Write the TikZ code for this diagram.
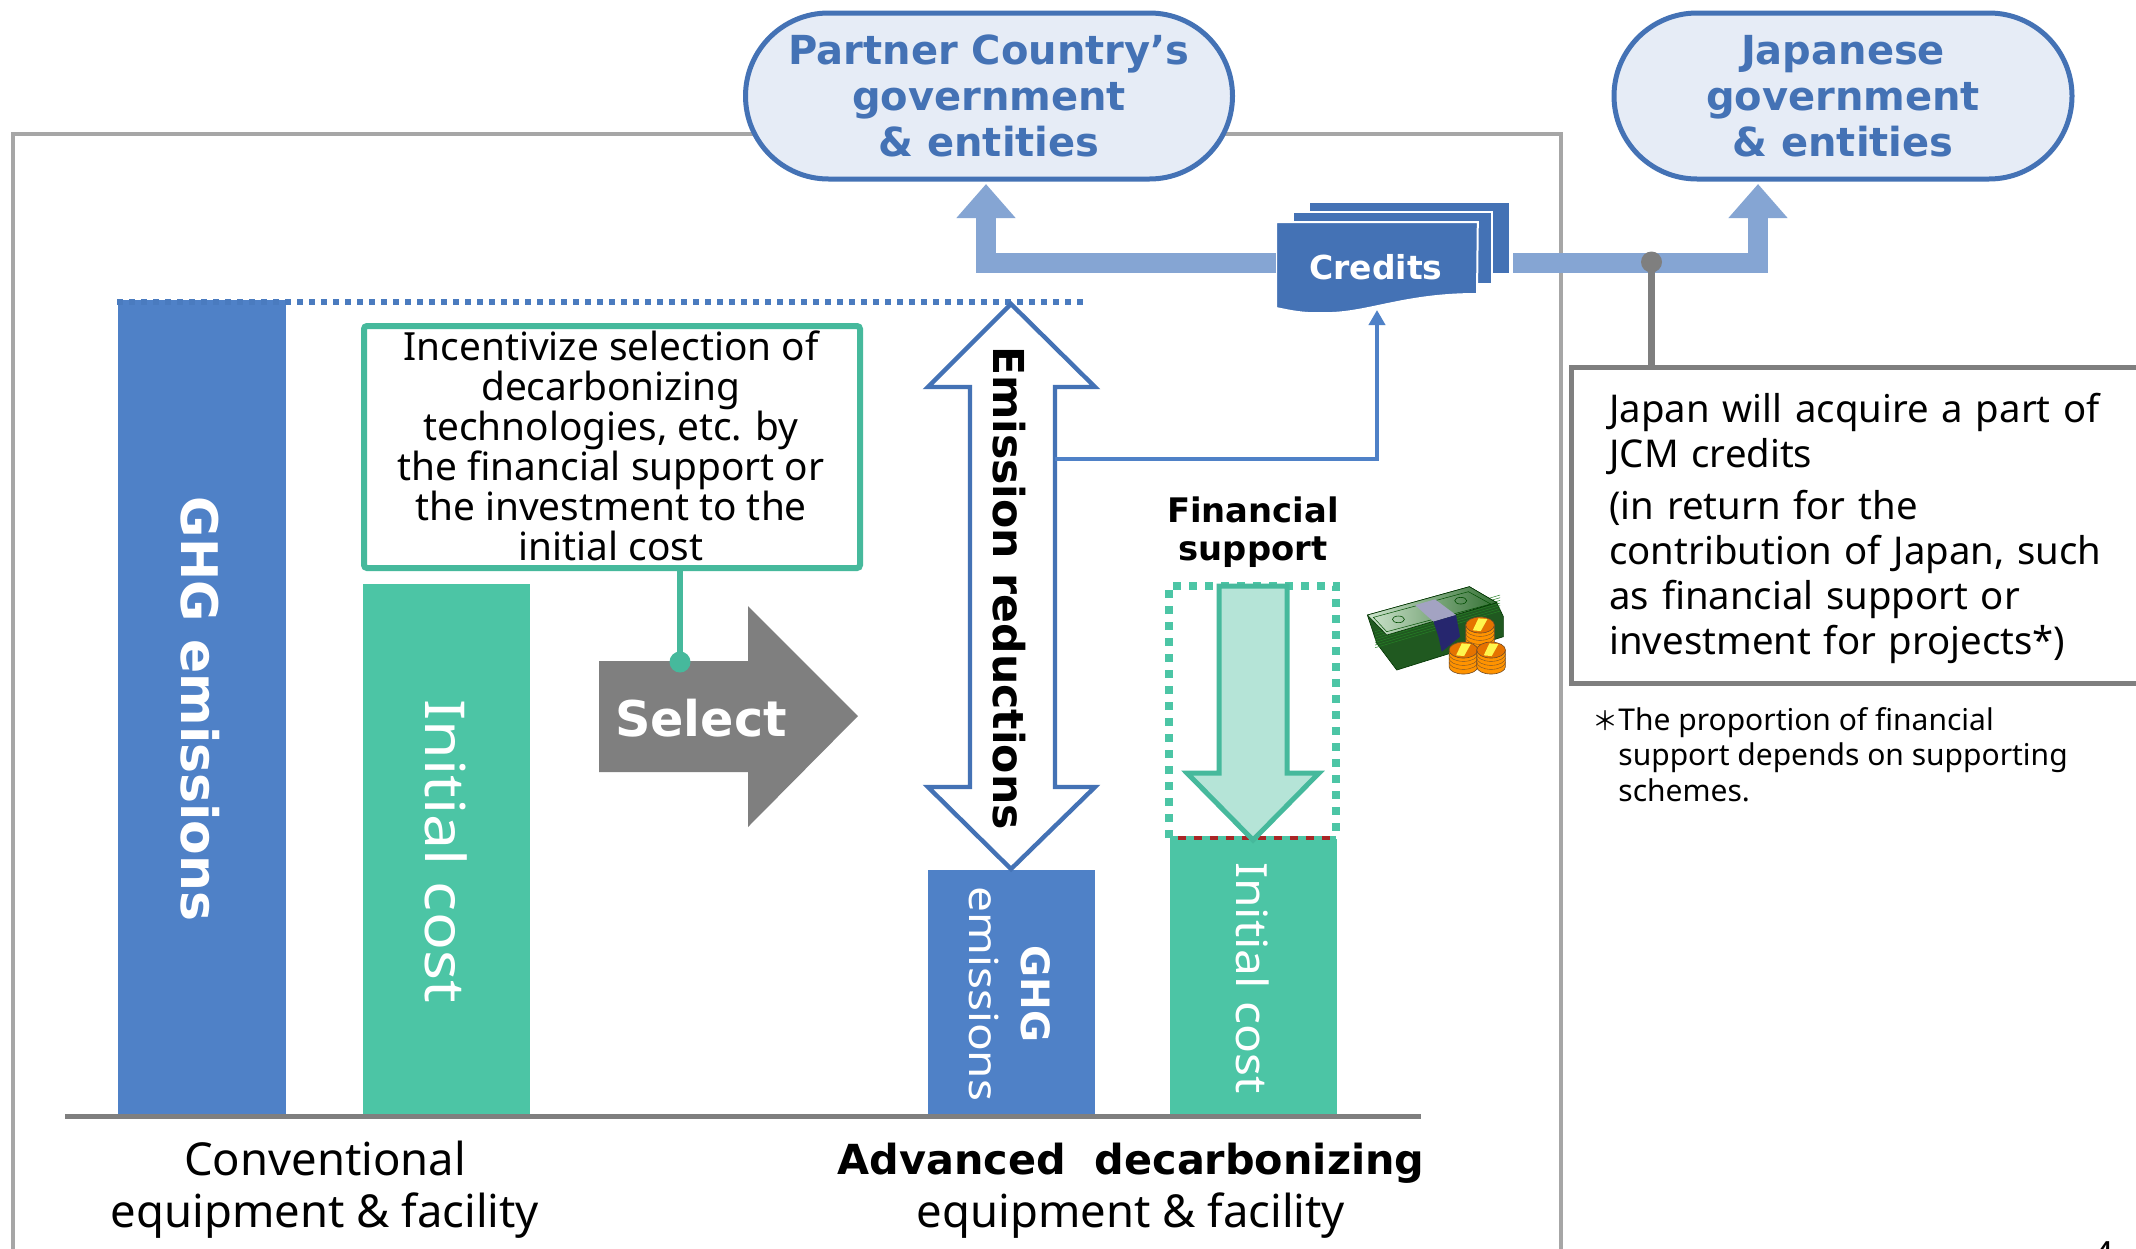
\documentclass[tikz,border=0pt]{standalone}
\usepackage{fontspec}
\setmainfont{Noto Sans}
\newfontfamily\djb{DejaVu Sans}
\newfontfamily\cjkf{Noto Sans CJK JP}
\usetikzlibrary{arrows.meta,shapes.misc,positioning}
\definecolor{bluem}{HTML}{4472B5}
\definecolor{barblue}{HTML}{4F81C7}
\definecolor{dotblue}{HTML}{4A7BBF}
\definecolor{green1}{HTML}{4CC5A5}
\definecolor{green2}{HTML}{46B99C}
\definecolor{greenl}{HTML}{B5E4D7}
\definecolor{paleb}{HTML}{E6ECF6}
\definecolor{band}{HTML}{85A5D3}
\definecolor{grayd}{HTML}{7F7F7F}
\definecolor{grayl}{HTML}{A6A6A6}
\tikzset{
  x=0.5pt,y=-0.5pt,
  pill/.style={rounded rectangle,draw=bluem,line width=2.5pt,fill=paleb,text=bluem,align=center,inner sep=0pt,
    font=\djb\bfseries\fontsize{20}{23}\selectfont},
  bar/.style={anchor=north west,inner sep=0pt,outer sep=0pt,minimum width=#1},
  lbl/.style={text=white,rotate=-90,align=center,inner sep=0pt},
  bandline/.style={draw=band,line width=10pt,line join=miter,-{Triangle[length=17pt,width=28.5pt]}},
  caption/.style={align=center,inner sep=0pt,font=\fontsize{22.7}{26}\selectfont},
  sheet/.style={fill=bluem,draw=white,line width=1pt},
  billdark/.style={fill=green!30!black!75!gray,draw=green!20!black,line width=0.3pt},
  coin/.style={fill=orange!85!yellow,draw=black!40!brown,line width=0.3pt},
}
\begin{document}
\begin{tikzpicture}
\useasboundingbox (0,0) rectangle (2136,1248);
\clip (0,0) rectangle (2136,1248);
\fill[white] (0,0) rectangle (2136,1248);
% frame
\draw[grayl,line width=2pt] (13,1260) -- (13,134) -- (1561,134) -- (1561,1260);
% bars
\node[bar=84pt,minimum height=408.5pt,fill=barblue] (ghg) at (117.5,300) {};
\node[lbl,font=\djb\bfseries\fontsize{25.2}{27}\selectfont] (ghgt) at (200,709) {GHG emissions};
\node[bar=83.5pt,minimum height=266.5pt,fill=green1] (init) at (362.5,584) {};
\node[lbl,font=\fontsize{27.5}{27}\selectfont] (initt) at (446,851) {\scalebox{1.14}[1]{Initial cost}};
\node[bar=83.5pt,minimum height=123.5pt,fill=barblue] (ghg2) at (928,870) {};
\node[lbl,font=\fontsize{20}{26}\selectfont] (ghg2t) at (1010,994) {{\djb\bfseries\fontsize{19.5}{26}\selectfont GHG}\\\scalebox{1.148}[1]{emissions}};
\node[bar=83.5pt,minimum height=139pt,fill=green1] (init2) at (1170,839) {};
\node[lbl,font=\fontsize{21.5}{26}\selectfont] (init2t) at (1253,978) {\scalebox{1.115}[1]{Initial cost}};
% baseline
\coordinate (b1) at (65,1116); \coordinate (b2) at (1421,1116);
\draw[grayd,line width=2.5pt] (b1) -- (b2);
% dotted top
\coordinate (d1) at (117,302); \coordinate (d2) at (1086,302);
\draw[dotblue,line width=3pt,dash pattern=on 3pt off 3pt] (d1) -- (d2);
% incentive box
\node[draw=green2,line width=3pt,rounded corners=1.5pt,fill=white,anchor=north west,minimum width=248pt,minimum height=121pt,inner sep=0pt] (inc) at (361,323) {};
\node[align=center,inner sep=0pt,font=\fontsize{19.4}{20}\selectfont] (inct) at (611,445.5)
  {Incentivize selection of\\decarbonizing\\technologies, etc. by\\the financial support or\\the investment to the\\initial cost};
% select arrow
\fill[grayd] (599,661) -- (748,661) -- (748,606) -- (858,716) -- (748,827) -- (748,772) -- (599,772) -- cycle;
\node[text=white,inner sep=0pt,font=\djb\bfseries\fontsize{24.6}{30}\selectfont] (sel) at (701,718) {Select};
\coordinate (seldot) at (680,662);
\draw[green2,line width=3pt] (inc.south west-|seldot) -- (seldot);
\fill[green2] (seldot) circle (10.5);
% double arrow
\filldraw[draw=bluem,fill=white,line width=2.2pt,line join=miter]
  (1011,304) -- (1095,387) -- (1055,387) -- (1055,787) -- (1095,787) -- (1011,869) -- (928,787) -- (970,787) -- (970,387) -- (928,387) -- cycle;
\node[rotate=-90,inner sep=0pt,font=\djb\bfseries\fontsize{21.3}{26}\selectfont] (emr) at (1009,588) {Emission reductions};
\coordinate (emrr) at (1055,459);
% financial
\node[inner sep=0pt,align=center,font=\djb\bfseries\fontsize{16.9}{19}\selectfont] (fin) at (1253,532.5) {Financial\\support};
\draw[green1,line width=4pt,dash pattern=on 4pt off 4pt,line cap=butt] (1169,838) -- (1169,586) -- (1336,586) -- (1336,838);
\draw[red!60!black!85,line width=2pt] (1170,838) -- (1336,838);
\draw[green1,line width=2pt,dash pattern=on 4pt off 4pt] (1170,838) -- (1336,838);
\filldraw[draw=green2,fill=greenl,line width=2.5pt,line join=miter]
  (1219,586) -- (1287,586) -- (1287,773) -- (1319,773) -- (1253,840) -- (1187,773) -- (1219,773) -- cycle;
% money icon
\begin{scope}[shift={(1130,480)},x=0.1667pt,y=-0.1667pt]
\filldraw[billdark] (712,405) -- (740,490) -- (800,570) -- (1120,470) -- (1120,410) -- (1100,368) -- (1018,320) -- cycle;
\foreach \d in {0,8,...,48}{\draw[green!50!black!70!gray,line width=0.25pt] (735,{455+\d}) -- (1110,{345+\d});}
\shade[left color=green!30!gray!30,right color=green!40!black!60!gray,draw=green!20!black,line width=0.3pt] (712,405) -- (1018,320) -- (1100,368) -- (770,465) -- cycle;
\draw[green!30!black,line width=0.25pt] (730,412) -- (1015,335) -- (1082,372) -- (770,455) -- cycle;
\draw[green!30!black,line width=0.3pt] (805,418) ellipse (18 and 10) (992,362) ellipse (18 and 10);
\fill[blue!20!gray!60] (855,375) -- (915,358) -- (978,405) -- (910,425) -- cycle;
\fill[blue!40!black!70!gray] (910,425) -- (978,405) -- (990,470) -- (935,515) -- (925,470) -- cycle;
\foreach \cx/\cy in {1050/435,1000/510,1083/510}{
  \filldraw[coin] (\cx-43,\cy) -- (\cx-43,\cy+50) arc (180:0:43 and 22) -- (\cx+43,\cy) -- cycle;
  \foreach \k in {12,24,36}{\draw[black!35!brown,line width=0.2pt] (\cx-43,\cy+\k) arc (180:0:43 and 22);}
  \filldraw[fill=orange!90!black,draw=black!40!brown,line width=0.3pt] (\cx,\cy) ellipse (43 and 24);
  \fill[yellow!70!white] (\cx-5,\cy-20) -- (\cx+22,\cy-18) -- (\cx+2,\cy+18) -- (\cx-22,\cy+16) -- cycle;
}
\end{scope}
% pills
\node[pill,minimum width=243.5pt,minimum height=83pt] (pc) at (989,96) {Partner Country’s\\government\\\& entities};
\node[pill,minimum width=229pt,minimum height=83pt] (jp) at (1843,96) {Japanese\\government\\\& entities};
% band arrows
\coordinate (tipL) at (986,184); \coordinate (tipR) at (1758,184);
% credits
\filldraw[sheet] (1309,202) -- (1510,202) -- (1510,274) -- (1309,274) -- cycle;
\filldraw[sheet] (1293,212) -- (1492,212) -- (1492,284) -- (1293,284) -- cycle;
\node[anchor=north west,inner sep=0pt,minimum width=100.5pt,minimum height=36pt] (cr) at (1276,222) {};
\filldraw[sheet] (cr.north west) -- (cr.north east) -- (1477,294) .. controls (1400,294) and (1365,315) .. (1320,313) .. controls (1305,314) and (1290,311) .. (1276,308) -- cycle;
\node[text=white,inner sep=0pt,font=\djb\bfseries\fontsize{16.5}{22}\selectfont] (crt) at (1376,267) {Credits};
\coordinate (crW) at (1276,263); \coordinate (crE) at (1513,263);
\draw[bandline] (crW) -| (tipL);
\draw[bandline] (crE) -| (tipR);
% credit up arrow
\coordinate (crB) at (1377,310);
\draw[barblue,line width=2.2pt,-{Triangle[length=7.5pt,width=8pt]}] (emrr) -| (crB);
% japan box
\node[draw=grayd,line width=2.6pt,anchor=north west,minimum width=300pt,minimum height=158pt,inner sep=0pt,fill=white] (jb) at (1569,364.5) {};
\node[anchor=west,inner sep=0pt,text width=290pt,align=left,font=\fontsize{19.15}{22.5}\selectfont] (jbt) at (1609,528.5)
  {Japan will acquire a part of\\JCM credits\\[3.5pt](in return for the\\contribution of Japan, such\\as financial support or\\investment for projects*)};
\coordinate (jdot) at (1651.5,262);
\draw[grayd,line width=3.2pt] (jdot) -- (jb.north west-|jdot);
\fill[grayd] (jdot) circle (10.5);
% note
\node[anchor=north west,inner sep=0pt,align=left,font=\fontsize{15}{17.8}\selectfont] (note) at (1618,707)
  {\makebox[0pt][r]{\cjkf\fontsize{13}{13}\selectfont ＊}The proportion of financial\\support depends on supporting\\schemes.};
% captions
\node[caption] (c1) at (325,1190) {Conventional\\equipment \& facility};
\node[caption] (c2) at (1131,1191) {{\djb\bfseries\fontsize{20.7}{26}\selectfont Advanced\ \ decarbonizing}\\[0.5pt]equipment \& facility};
\node[inner sep=0pt,font=\fontsize{18}{20}\selectfont\bfseries,anchor=north] (pg) at (2104,1241) {4};
\end{tikzpicture}
\end{document}
